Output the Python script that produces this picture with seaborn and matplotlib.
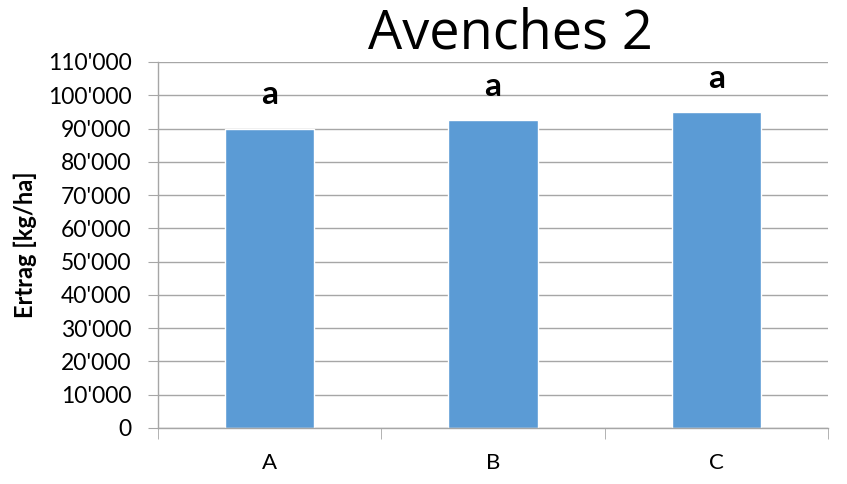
import matplotlib
matplotlib.use("Agg")
import matplotlib.pyplot as plt
import matplotlib.ticker as mticker
import seaborn as sns
import pandas as pd

categories = ["A", "B", "C"]
values = [90000, 92600, 94900]
letters = ["a", "a", "a"]
title = "Avenches 2"
ylabel = "Ertrag [kg/ha]"

sns.set_style("white")
plt.rcParams['font.family'] = ['Lato', 'DejaVu Sans']
plt.rcParams['text.color'] = 'black'
plt.rcParams['xtick.labelcolor'] = 'black'
plt.rcParams['ytick.labelcolor'] = 'black'

df = pd.DataFrame({"cat": categories, "val": values})

fig = plt.figure(figsize=(8.47, 4.84), dpi=100)
ax = fig.add_axes([158/847, 1-428/484, (828-158)/847, (428-62)/484])
sns.barplot(data=df, x="cat", y="val", color="#5B9BD5", width=0.4, ax=ax, saturation=1)
ax.set_xlim(-0.5, 2.5)
ax.set_ylim(0, 110000)
ax.yaxis.set_major_locator(mticker.MultipleLocator(10000))
ax.yaxis.set_major_formatter(mticker.FuncFormatter(lambda v, p: f"{int(v):,}".replace(",", "'")))
ax.grid(axis="y", color="#A6A6A6", linewidth=1)
ax.set_axisbelow(True)
for s in ["top", "right"]:
    ax.spines[s].set_visible(False)
for s in ["left", "bottom"]:
    ax.spines[s].set_color("#A6A6A6")
    ax.spines[s].set_linewidth(1)
ax.tick_params(axis="y", length=7, color="#A6A6A6", labelsize=16.5, pad=12, left=True,
               labelcolor="black")
ax.tick_params(axis="x", which="major", length=0, labelsize=16, pad=18, labelcolor="black")
ax.set_xticks([-0.5, 0.5, 1.5, 2.5], minor=True)
ax.tick_params(axis="x", which="minor", length=8, color="#A6A6A6", bottom=True)
ax.set_xlabel("")
ax.set_ylabel("")
fig.text(25/847, 1-245/484, ylabel, rotation=90, ha="center", va="center",
         fontsize=17, fontweight="bold", color="black")
for i, (v, t) in enumerate(zip(values, letters)):
    ax.text(i, v + 5800, t, ha="center", va="bottom", fontsize=24, fontweight="bold",
            color="black")
fig.text(510/847, 1-34/484, title, ha="center", va="center", fontsize=39,
         family=["Open Sans", "DejaVu Sans"], color="black")
fig.savefig("out.png", dpi=100)
